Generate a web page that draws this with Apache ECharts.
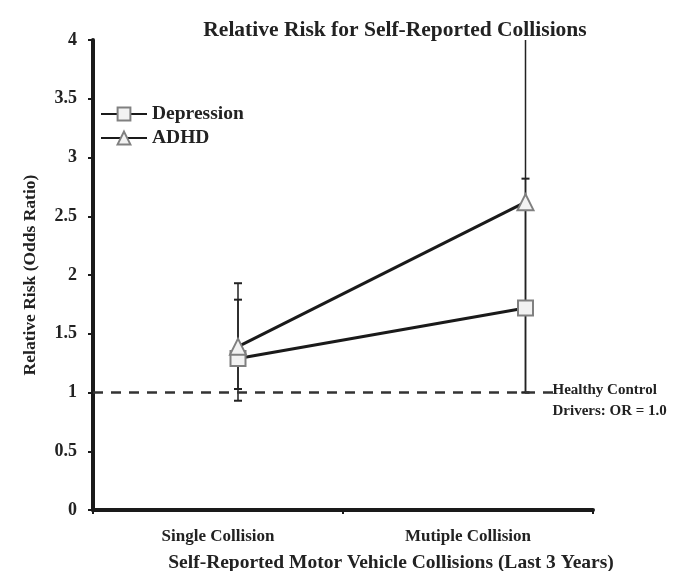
<!DOCTYPE html>
<html><head><meta charset="utf-8">
<script src="https://cdn.jsdelivr.net/npm/echarts@6/dist/echarts.min.js"></script>
<style>html,body{margin:0;padding:0;background:#fff}#c{width:680px;height:571px}</style>
</head><body><div id="c"></div>
<script>
const categories = ['Single Collision', 'Mutiple Collision'];
const pointX = [0.58, 1.73];
const depression = [1.29, 1.72];
const depressionLow = [1.03, 1.0];
const depressionHigh = [1.79, 4.3];
const adhd = [1.39, 2.62];
const adhdLow = [0.93, 1.0];
const adhdHigh = [1.93, 2.82];
const yTicks = [0, 0.5, 1, 1.5, 2, 2.5, 3, 3.5, 4];
const refValue = 1.0;

const font = '"Liberation Serif", "DejaVu Serif", serif';
const chart = echarts.init(document.getElementById('c'));

function errData(lo, hi) { return pointX.map((x, i) => [x, lo[i], hi[i]]); }
function errRender(params, api) {
  const x = api.value(0);
  const p1 = api.coord([x, api.value(1)]);
  const p2 = api.coord([x, api.value(2)]);
  const w = 4;
  const st = { stroke: '#222', lineWidth: 1.5 };
  return { type: 'group', children: [
    { type: 'line', shape: { x1: p1[0], y1: p1[1], x2: p2[0], y2: p2[1] }, style: st },
    { type: 'line', shape: { x1: p1[0] - w, y1: p1[1], x2: p1[0] + w, y2: p1[1] }, style: { stroke: '#222', lineWidth: 2 } },
    { type: 'line', shape: { x1: p2[0] - w, y1: p2[1], x2: p2[0] + w, y2: p2[1] }, style: { stroke: '#222', lineWidth: 2 } }
  ]};
}

chart.setOption({
  animation: false,
  backgroundColor: '#fff',
  title: { text: 'Relative Risk for Self-Reported Collisions', left: 390, top: 14, textAlign: 'center',
    textStyle: { fontFamily: font, fontWeight: 'bold', fontSize: 21.5, color: '#222' } },
  legend: { orient: 'vertical', left: 95, top: 99, itemWidth: 46, itemHeight: 16, itemGap: 4,
    data: ['Depression', 'ADHD'],
    textStyle: { fontFamily: font, fontWeight: 'bold', fontSize: 19.5, color: '#222' } },
  grid: { left: 93, right: 87, top: 40, bottom: 61, containLabel: false, outerBoundsMode: 'none' },
  xAxis: [
    { type: 'category', data: categories, boundaryGap: true,
      axisLine: { lineStyle: { color: '#1a1a1a', width: 4 } },
      axisTick: { show: true, length: 4, lineStyle: { color: '#1a1a1a', width: 2 } },
      axisLabel: { fontFamily: font, fontWeight: 'bold', fontSize: 17, color: '#222', margin: 18 },
      name: 'Self-Reported Motor Vehicle Collisions (Last 3 Years)', nameLocation: 'middle', nameGap: 43,
      nameTextStyle: { fontFamily: font, fontWeight: 'bold', fontSize: 19.5, color: '#222', padding: [0, 0, 0, 96] } },
    { type: 'value', min: 0, max: 2, show: false }
  ],
  yAxis: { type: 'value', min: 0, max: 4, interval: 0.5,
    axisLine: { show: true, lineStyle: { color: '#1a1a1a', width: 4 } },
    axisTick: { show: true, length: 5, lineStyle: { color: '#1a1a1a', width: 2 } },
    splitLine: { show: false },
    axisLabel: { fontFamily: font, fontWeight: 'bold', fontSize: 18, color: '#222', margin: 16,
      formatter: v => yTicks.includes(v) ? String(v) : '' },
    name: 'Relative Risk (Odds Ratio)', nameLocation: 'middle', nameGap: 54, nameRotate: 90,
    nameTextStyle: { fontFamily: font, fontWeight: 'bold', fontSize: 17.5, color: '#222' } },
  series: [
    { type: 'custom', xAxisIndex: 1, renderItem: errRender, data: errData(depressionLow, depressionHigh), clip: true, z: 1 },
    { type: 'custom', xAxisIndex: 1, renderItem: errRender, data: errData(adhdLow, adhdHigh), clip: true, z: 1 },
    { name: 'Depression', type: 'line', xAxisIndex: 1, data: pointX.map((x, i) => [x, depression[i]]),
      symbol: 'rect', symbolSize: 15, z: 3,
      lineStyle: { color: '#1a1a1a', width: 3 },
      itemStyle: { color: '#f2f2f2', borderColor: '#808080', borderWidth: 2 },
      markLine: { silent: true, symbol: 'none',
        lineStyle: { type: [10, 8], color: '#333', width: 2.5 },
        label: { show: true, position: 'end', distance: -8, formatter: 'Healthy Control\nDrivers: OR = 1.0',
          fontFamily: font, fontWeight: 'bold', fontSize: 15, color: '#222', lineHeight: 21, align: 'left',
          offset: [0, 8] },
        data: [[{ coord: [0, refValue] }, { coord: [1.87, refValue] }]] } },
    { name: 'ADHD', type: 'line', xAxisIndex: 1, data: pointX.map((x, i) => [x, adhd[i]]),
      symbol: 'triangle', symbolSize: 16, z: 3,
      lineStyle: { color: '#1a1a1a', width: 3 },
      itemStyle: { color: '#f2f2f2', borderColor: '#808080', borderWidth: 2 } }
  ]
});
</script></body></html>
